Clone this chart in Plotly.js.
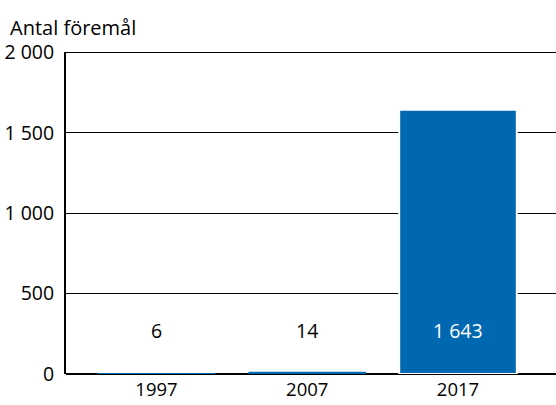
<!DOCTYPE html>
<html><head><meta charset="utf-8">
<script src="https://cdn.plot.ly/plotly-3.0.1.min.js"></script>
<style>html,body{margin:0;padding:0;background:#fff}</style>
</head><body>
<div id="chart" style="width:556px;height:405px"></div>
<script>
const years = ['1997', '2007', '2017'];
const counts = [6, 14, 1643];
const yTickVals = [0, 500, 1000, 1500, 2000];
const yTickText = ['0', '500', '1 000', '1 500', '2 000'];
const labelColors = ['#000000', '#000000', '#ffffff'];
const yTitle = 'Antal föremål';

function fmt(v) { return String(v).replace(/\B(?=(\d{3})+(?!\d))/g, ' '); }

const FONT = '"Open Sans", "Noto Sans", sans-serif';
const FS = 19.5;

const trace = {
  type: 'bar', x: years, y: counts, width: 0.78,
  marker: { color: '#0067b1', line: { color: '#ffffff', width: counts.map(v => v > 100 ? 2 : 0) } },
  hoverinfo: 'none'
};

const annotations = years.map((yr, i) => ({
  x: i, y: 272, xref: 'x', yref: 'y', text: fmt(counts[i]), showarrow: false,
  font: { family: FONT, size: FS, color: labelColors[i] }
}));
annotations.push({
  xref: 'paper', yref: 'paper', x: 0, y: 1, xshift: -58, yshift: 25,
  xanchor: 'left', yanchor: 'middle', text: yTitle, showarrow: false,
  font: { family: FONT, size: 20, color: '#000' }
});

const layout = {
  width: 556, height: 405,
  margin: { l: 66, r: 0, t: 52, b: 31, pad: 0 },
  paper_bgcolor: '#fff', plot_bgcolor: '#fff',
  font: { family: FONT, size: FS, color: '#000' },
  showlegend: false,
  xaxis: {
    type: 'category', range: [-0.6, 2.65], showgrid: false, zeroline: false,
    showline: false, ticks: '', tickfont: { family: FONT, size: 18.5, color: '#000' },
    ticklabelstandoff: 2, fixedrange: true
  },
  yaxis: {
    range: [0, 2002], tickvals: yTickVals, ticktext: yTickText,
    showgrid: true, gridcolor: '#000', gridwidth: 1,
    zeroline: true, zerolinecolor: '#000', zerolinewidth: 2,
    showline: true, linecolor: '#000', linewidth: 2, ticks: '', ticklabelstandoff: 6,
    tickfont: { family: FONT, size: FS, color: '#000' }, fixedrange: true
  },
  shapes: [{
    type: 'line', xref: 'paper', yref: 'y', x0: 0, x1: 1, y0: 2000, y1: 2000,
    line: { color: '#000', width: 1.5 }, layer: 'below'
  }],
  annotations: annotations
};

Plotly.newPlot('chart', [trace], layout, { displayModeBar: false, staticPlot: true });
</script>
</body></html>
